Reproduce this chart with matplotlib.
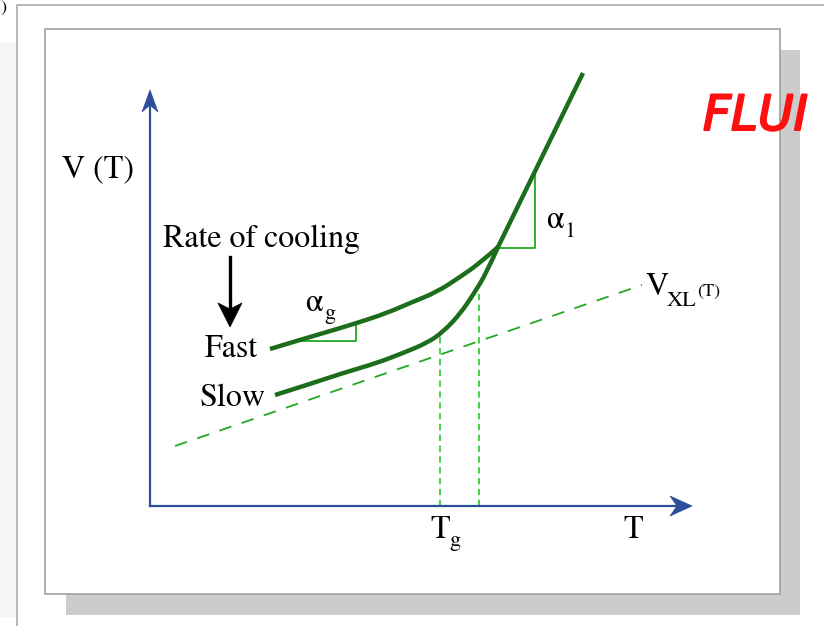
import matplotlib
matplotlib.use("Agg")
from matplotlib import pyplot as plt
from matplotlib.patches import Rectangle, Polygon, PathPatch
from matplotlib.path import Path
import matplotlib.patheffects as pe
import numpy as np

plt.rcParams['font.family'] = ['STIXGeneral', 'DejaVu Serif']
plt.rcParams['mathtext.fontset'] = 'stix'

# schematic curves (x = T, y = V in picture units)
fast_T = [270, 293, 327, 357, 387, 410, 437, 460, 480, 498]
fast_V = [349, 342, 332, 323, 313, 303, 292, 277, 263, 247]
slow_T = [275, 310, 343, 377, 403, 427, 443, 460, 473, 487, 498]
slow_V = [395, 384, 373, 363, 353, 343, 332, 314, 295, 272, 247]
liquid_T = [498, 583]
liquid_V = [247, 73]
xl_T = [175, 642]
xl_V = [446, 285]
tg_T = [440, 479]           # where the two cooling curves break away
tg_V = [335, 293]
slope_g = ([298, 356, 356], [341, 341, 323])
slope_1 = ([498, 535, 535], [248, 248, 173])

axis_blue = '#2d4e98'
dark_green = '#1c6e1c'
mid_green = '#22a822'
light_green = '#33d033'

fig = plt.figure(figsize=(8.24, 6.26), dpi=100)
ax = fig.add_axes([0, 0, 1, 1])
ax.set_xlim(0, 824)
ax.set_ylim(626, 0)
ax.axis('off')

# page frame, card and its shadow
ax.add_patch(Rectangle((0, 43), 16, 574, facecolor='#f5f5f5', edgecolor='none'))
ax.plot([17, 17, 824], [626, 5, 5], color='#aaaaaa', lw=1.2)
ax.add_patch(Rectangle((66, 50), 734, 565, facecolor='#cccccc', edgecolor='none'))
ax.add_patch(Rectangle((45, 29), 735, 565, facecolor='white', edgecolor='#a0a0a0', lw=1.2))
ax.text(0.5, 8, ')', fontsize=13, va='center', ha='left')


def head(tip, direction, length, width, notch, color):
    d = np.array(direction, float)
    d /= np.linalg.norm(d)
    n = np.array([-d[1], d[0]])
    t = np.array(tip, float)
    back = t - d * length
    pts = [t, back + n * width / 2, t - d * (length - notch), back - n * width / 2]
    ax.add_patch(Polygon(pts, closed=True, facecolor=color, edgecolor=color, lw=0.5, zorder=5))


def smooth(T, V, **kw):
    # quadratic bezier through the midpoints, read points act as control points
    p = np.column_stack([T, V]).astype(float)
    verts = [p[0]]
    codes = [Path.MOVETO]
    for i in range(1, len(p) - 2):
        verts += [p[i], (p[i] + p[i + 1]) / 2]
        codes += [Path.CURVE3, Path.CURVE3]
    verts += [p[-2], p[-1]]
    codes += [Path.CURVE3, Path.CURVE3]
    ax.add_patch(PathPatch(Path(verts, codes), facecolor='none', **kw))


# axes
ax.plot([150, 150], [506, 100], color=axis_blue, lw=1.6, zorder=4)
ax.plot([150, 682], [506, 506], color=axis_blue, lw=1.6, zorder=4)
head((150, 90), (0, -1), 22, 16, 7, axis_blue)
head((692, 506), (1, 0), 22, 20, 7, axis_blue)

# rate of cooling arrow
ax.plot([230, 230], [257, 312], color='black', lw=2.4)
head((230, 327), (0, 1), 24, 24, 6, 'black')

# reference lines
ax.plot(xl_T, xl_V, color=mid_green, lw=1.3, dashes=(7, 6))
for t, v in zip(tg_T, tg_V):
    ax.plot([t, t], [506, v], color=light_green, lw=1.3, dashes=(3.5, 2.5))

# slope triangles
ax.plot(*slope_g, color=mid_green, lw=1.3)
ax.plot(*slope_1, color=mid_green, lw=1.3)

# cooling curves
smooth(fast_T, fast_V, edgecolor=dark_green, lw=3.2, capstyle='butt', zorder=3)
smooth(slow_T, slow_V, edgecolor=dark_green, lw=3.2, capstyle='butt', zorder=3)
ax.plot(liquid_T, liquid_V, color=dark_green, lw=3.2, solid_capstyle='butt', zorder=3)

fs = 23
sub = 16
ax.text(62, 177, 'V (T)', fontsize=fs, va='baseline')
ax.text(163, 247, 'Rate of cooling', fontsize=fs, va='baseline')
ax.text(205, 357, 'Fast', fontsize=fs, va='baseline')
ax.text(200, 406, 'Slow', fontsize=fs, va='baseline')
ax.text(305, 311, 'α', fontsize=fs, va='baseline')
ax.text(324, 319, 'g', fontsize=sub, va='baseline')
ax.text(546, 228, 'α', fontsize=fs, va='baseline')
ax.text(565, 237, '1', fontsize=sub, va='baseline')
ax.text(646, 295, 'V', fontsize=fs, va='baseline')
ax.text(667, 306, 'XL', fontsize=sub, va='baseline')
ax.text(697, 296, '(T)', fontsize=13, va='baseline')
ax.text(430, 538, 'T', fontsize=fs, va='baseline')
ax.text(449, 546, 'g', fontsize=sub, va='baseline')
ax.text(623, 538, 'T', fontsize=fs, va='baseline')

# handwritten note in the margin
ax.text(703, 130, 'FLUI', fontsize=35, color='#ff1010', style='italic',
        family='DejaVu Sans', va='baseline', ha='left',
        path_effects=[pe.withStroke(linewidth=1.5, foreground='#ff1010')])

fig.savefig('out.png', dpi=100)
